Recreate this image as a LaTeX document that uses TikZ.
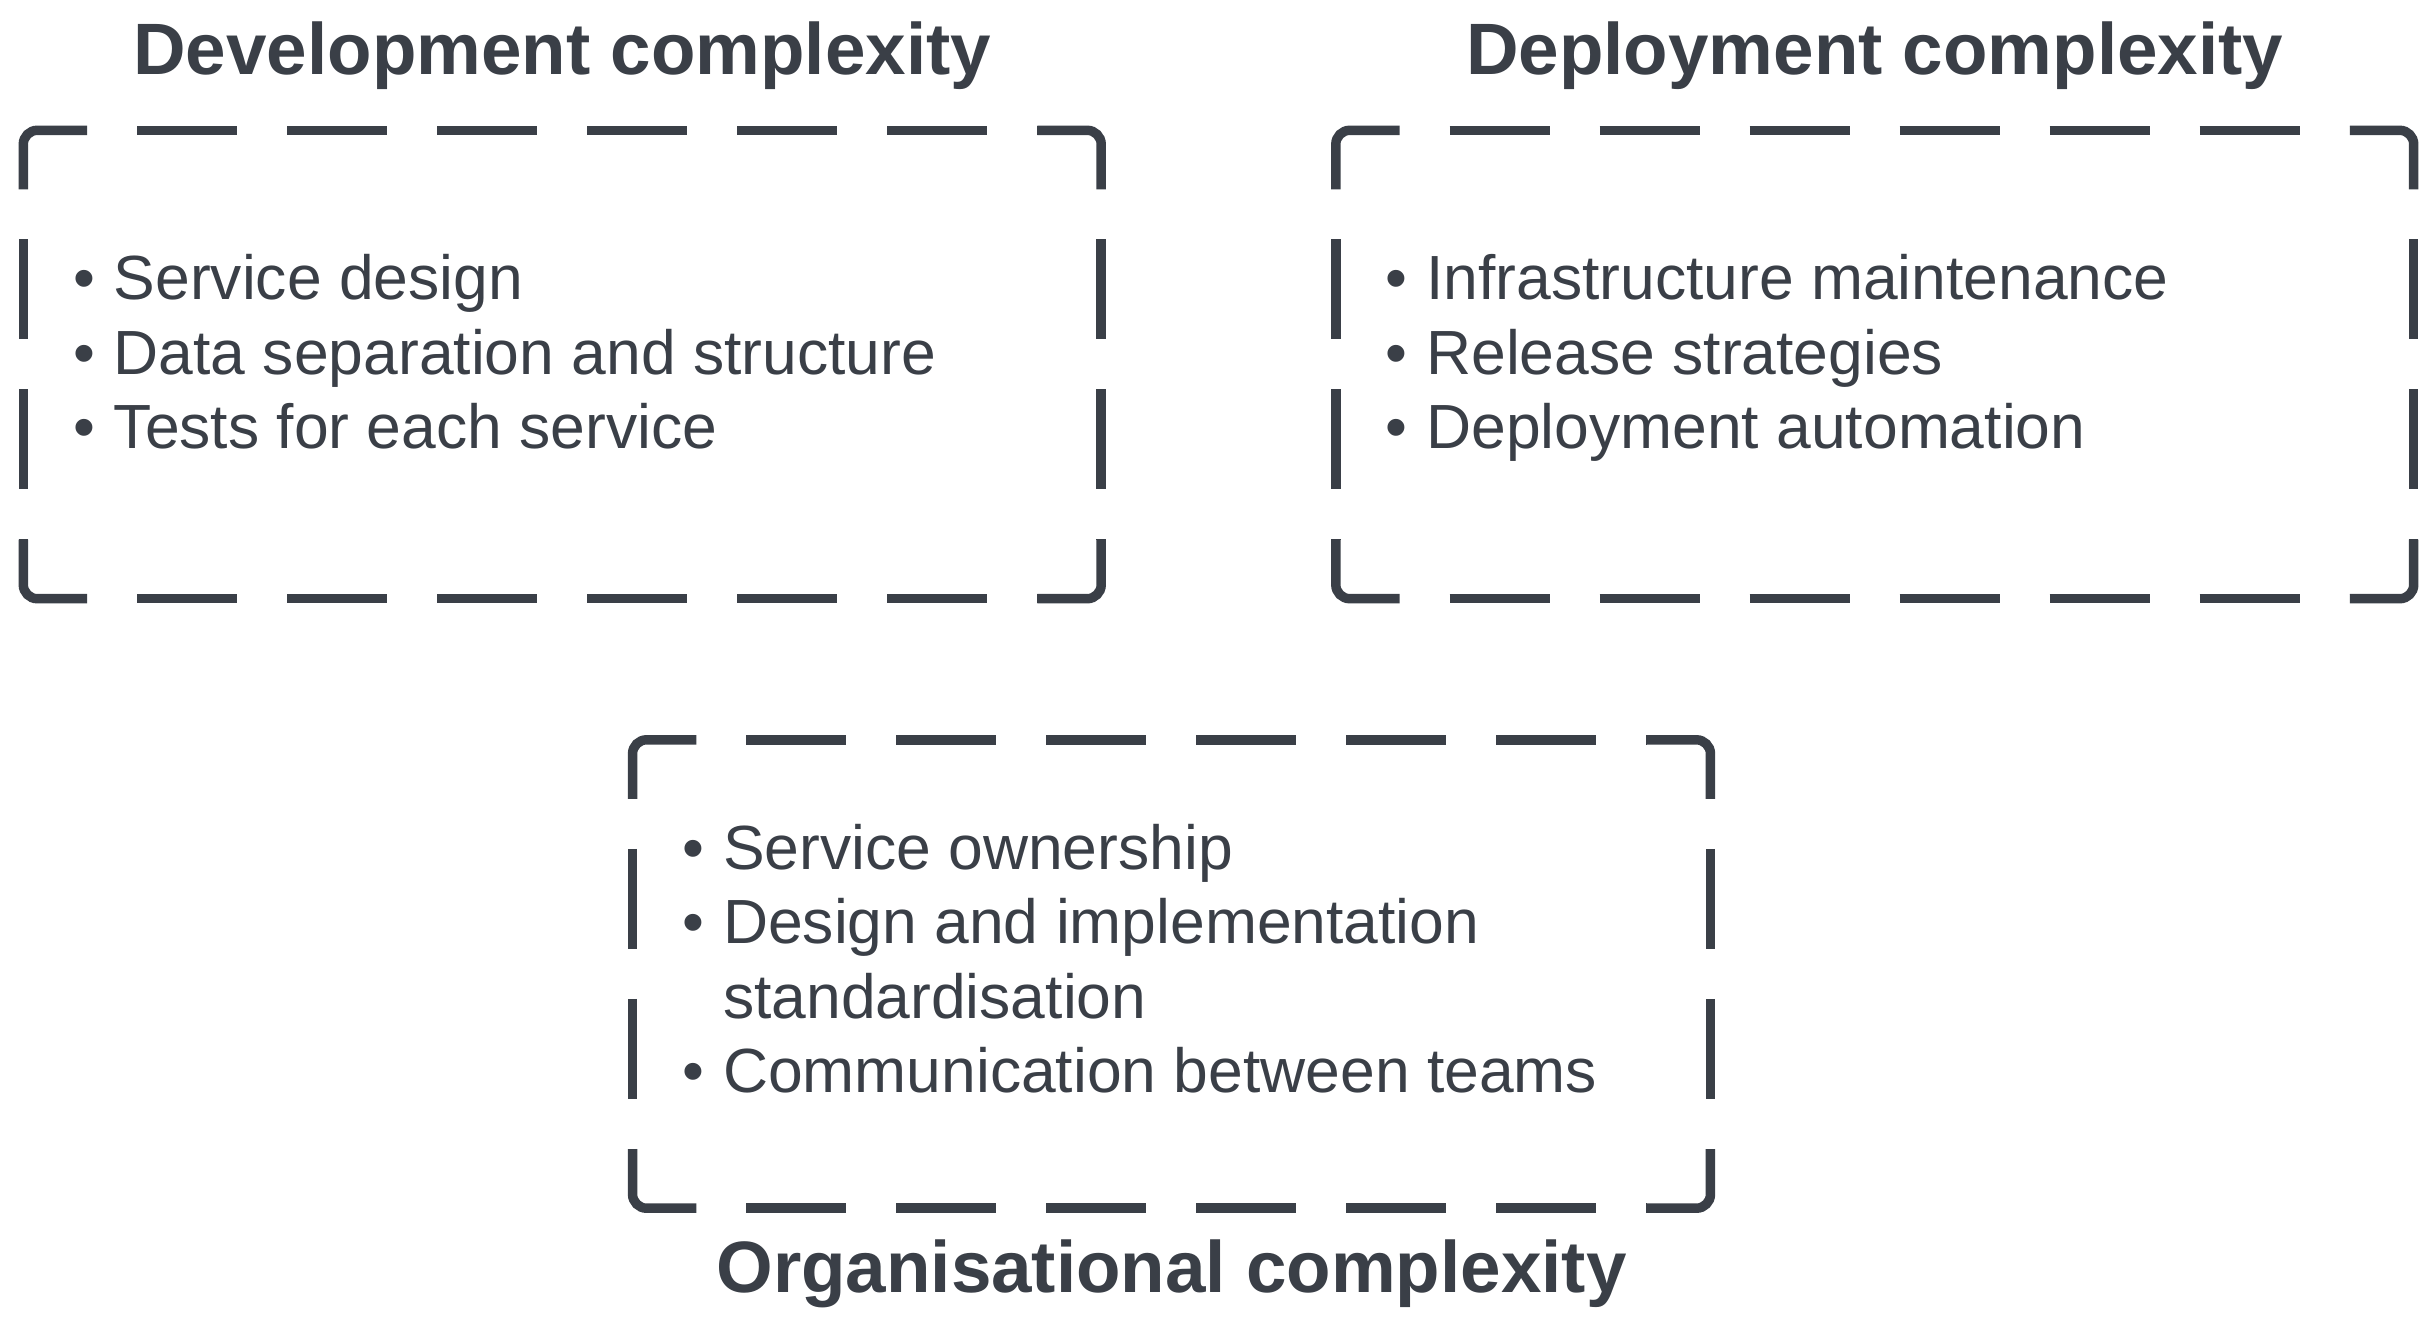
\documentclass[tikz,border=0pt]{standalone}
\usepackage{fontspec}
\setmainfont{Liberation Sans}
\usepackage{xcolor}
\usetikzlibrary{positioning}
\definecolor{slate}{HTML}{3A3F47}
\tikzset{
	box/.style={minimum width=1077.5pt, minimum height=468pt, inner sep=0pt},
	boxline/.style={draw=slate, line width=9.5pt, rounded corners=14pt},
	gapline/.style={draw=slate, line width=9.5pt, dash pattern=on 100pt off 50pt, dash phase=100pt},
	heading/.style={font=\bfseries\fontsize{72.8}{87}\selectfont, text=slate, inner sep=0pt},
	items/.style={font=\fontsize{62.4}{74.5}\selectfont, text=slate, inner sep=0pt, anchor=west}
}
\newcommand{\dashframe}[1]{
	\draw[boxline] ([yshift=-59pt]#1.north west) -- (#1.north west) -- ([xshift=63.75pt]#1.north west);
	\draw[boxline] ([xshift=-63.75pt]#1.north east) -- (#1.north east) -- ([yshift=-59pt]#1.north east);
	\draw[boxline] ([yshift=59pt]#1.south east) -- (#1.south east) -- ([xshift=-63.75pt]#1.south east);
	\draw[boxline] ([xshift=63.75pt]#1.south west) -- (#1.south west) -- ([yshift=59pt]#1.south west);
	\draw[gapline] ([xshift=63.75pt]#1.north west) -- ([xshift=-63.75pt]#1.north east);
	\draw[gapline] ([yshift=-59pt]#1.north east) -- ([yshift=59pt]#1.south east);
	\draw[gapline] ([xshift=63.75pt]#1.south west) -- ([xshift=-63.75pt]#1.south east);
	\draw[gapline] ([yshift=-59pt]#1.north west) -- ([yshift=59pt]#1.south west);
}

\begin{document}
\begin{tikzpicture}[x=1pt, y=-1pt]
		\useasboundingbox (0,0) rectangle (2432,1327);
		\node[box] (dev) at (562.25,364.5) {};
		\node[box] (dep) at (1874.75,364.5) {};
		\node[box] (org) at (1171.5,974) {};
		\dashframe{dev}
		\dashframe{dep}
		\dashframe{org}
		\node[heading, anchor=base] (devtitle) at ([yshift=55.5pt]dev.north) {Development complexity};
		\node[heading, anchor=base] (deptitle) at ([yshift=55.5pt]dep.north) {Deployment complexity};
		\node[heading, anchor=base] (orgtitle) at ([yshift=-84pt]org.south) {Organisational complexity};
		\node[items] (devlist) at ([xshift=49.5pt, yshift=5pt]dev.west) {
			\begin{tabular}{@{}l@{\hspace{19pt}}l@{}}
				\textbullet & Service design\\
				\textbullet & Data separation and structure\\
				\textbullet & Tests for each service
			\end{tabular}};
		\node[items] (deplist) at ([xshift=49.5pt, yshift=5pt]dep.west) {
			\begin{tabular}{@{}l@{\hspace{19pt}}l@{}}
				\textbullet & Infrastructure maintenance\\
				\textbullet & Release strategies\\
				\textbullet & Deployment automation
			\end{tabular}};
		\node[items] (orglist) at ([xshift=49.5pt, yshift=8pt]org.west) {
			\begin{tabular}{@{}l@{\hspace{19pt}}l@{}}
				\textbullet & Service ownership\\
				\textbullet & Design and implementation\\
				 & standardisation\\
				\textbullet & Communication between teams
			\end{tabular}};
	\end{tikzpicture}
\end{document}
